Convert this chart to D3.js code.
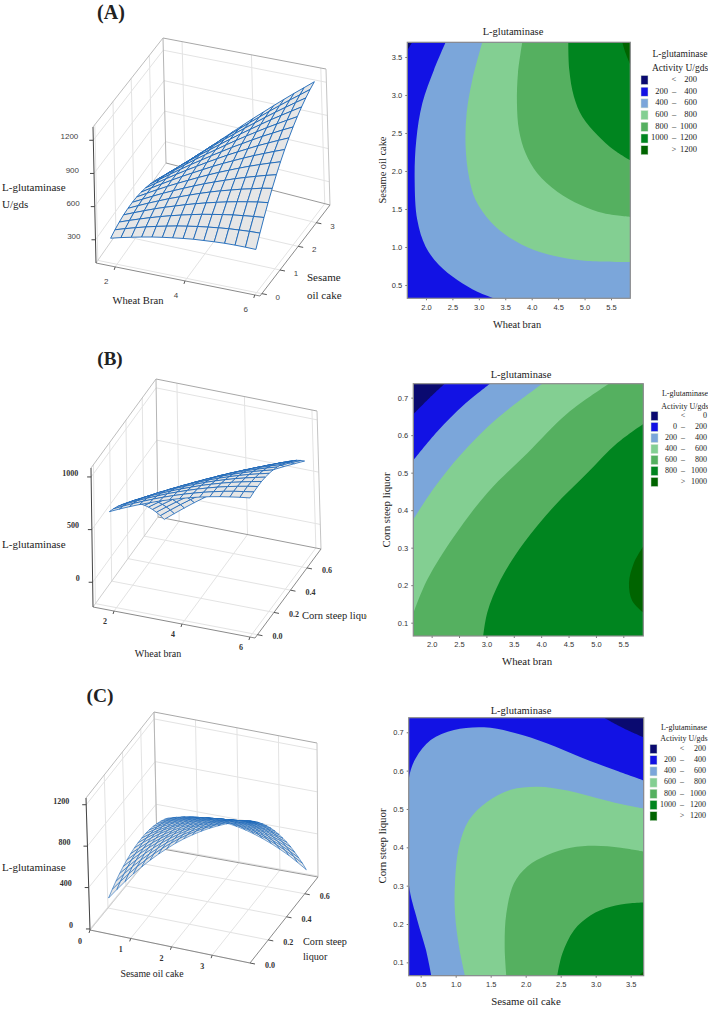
<!DOCTYPE html>
<html lang="en">
<head>
<meta charset="UTF-8">
<title>L-glutaminase response surfaces</title>
<script src="https://d3js.org/d3.v7.min.js"></script>
<style>
  body { margin: 0; background: #fff; }
  svg { display: block; }
  text { fill: #222; }
  .serif { font-family: "Liberation Serif", serif; }
  .sans { font-family: "Liberation Sans", sans-serif; }
</style>
</head>
<body>
<script>
// response, rows go front to back (second factor), columns left to right (first factor)
const surfaceA = [
  [230,255,277,298,317,333,347,360,371,378,385,390,392,392,390],
  [251,281,309,335,359,380,400,417,433,446,458,468,475,481,484],
  [266,301,334,365,394,421,446,469,490,508,525,540,552,563,572],
  [276,316,354,391,425,456,487,515,541,565,587,607,625,641,654],
  [280,325,369,410,450,486,522,556,588,617,643,669,691,714,731],
  [279,329,378,425,469,511,552,591,627,661,694,724,752,779,803],
  [272,328,382,434,483,530,576,620,662,701,739,775,808,840,869],
  [260,321,380,437,492,544,595,645,692,736,779,820,858,895,930],
  [242,308,372,435,495,552,609,663,716,765,813,860,903,945,985],
  [219,290,360,427,493,555,617,676,734,788,842,894,942,990,1034],
  [190,267,341,414,485,553,619,684,747,807,865,922,976,1028,1078],
  [156,238,318,396,472,544,616,686,754,819,883,945,1004,1061,1117],
  [116,203,288,371,452,531,608,683,756,826,896,963,1027,1090,1150],
  [71,163,254,342,428,512,594,674,752,828,902,974,1044,1111,1178],
  [20,118,213,307,398,487,574,660,744,824,904,981,1056,1128,1200]
];
const surfaceB = [
  [580,621,660,696,729,761,789,816,840,861,880,896,909,921,930],
  [556,600,641,679,715,749,780,809,835,859,880,899,915,928,940],
  [528,574,617,658,696,733,766,797,826,852,876,897,915,931,945],
  [494,543,588,632,672,711,747,780,812,840,866,890,910,929,946],
  [456,507,554,601,644,685,723,759,793,824,852,878,901,922,941],
  [412,466,516,565,610,653,694,732,769,802,833,861,887,910,931],
  [364,420,473,524,572,617,660,701,740,776,809,840,868,893,917],
  [311,369,425,478,528,576,622,665,706,745,780,813,843,872,898],
  [253,314,371,427,480,531,578,624,668,708,746,782,814,845,874],
  [190,253,313,371,427,480,530,578,624,667,707,745,780,814,845],
  [123,188,250,311,368,424,477,527,576,621,664,704,742,777,811],
  [50,118,183,246,306,364,419,472,523,571,616,659,699,737,772],
  [-27,43,110,176,238,298,355,411,465,515,562,607,650,690,729],
  [-110,-37,33,100,165,228,288,346,401,454,504,552,597,640,680],
  [-197,-122,-49,21,88,153,215,275,334,389,441,491,538,583,627]
];
const surfaceC = [
  [248,345,438,526,608,685,757,823,886,942,993,1039,1080,1116,1148,1174,1194],
  [286,379,467,550,627,700,767,829,886,938,984,1026,1062,1094,1120,1142,1157],
  [319,407,491,568,641,709,772,829,881,928,970,1007,1039,1065,1087,1104,1115],
  [348,431,510,584,652,715,773,825,874,916,953,985,1012,1035,1052,1064,1070],
  [372,451,525,594,657,716,769,817,860,898,930,958,980,998,1010,1018,1019],
  [391,465,535,598,657,711,760,803,841,874,902,925,943,955,963,966,963],
  [406,475,540,599,653,702,747,785,819,847,870,888,901,909,912,911,903],
  [417,482,542,597,646,691,730,764,793,817,835,849,857,861,859,853,840],
  [423,483,539,588,633,673,708,737,761,780,794,803,807,805,799,788,771],
  [424,479,530,575,615,651,681,705,725,739,748,752,751,745,734,719,697],
  [422,472,519,559,595,625,650,670,685,695,699,698,693,682,667,646,619],
  [414,460,502,537,568,594,615,630,640,645,645,640,630,614,594,569,538],
  [402,443,480,511,537,559,575,585,591,591,586,576,561,541,516,487,451],
  [385,421,454,480,502,518,529,535,536,532,522,507,488,463,434,399,358],
  [364,396,423,445,462,474,480,481,478,468,454,435,410,381,347,308,262],
  [339,366,389,406,418,426,428,424,416,402,383,359,331,296,258,214,164],
  [309,331,350,362,370,372,369,361,348,330,306,277,244,205,163,112,58]
];

// contour boundaries [x, y] in data units, one list per level, lowest first
const contourA = [
  [[1.647,3.59],[1.74,3.693]],
  [[2.372,3.693],[2.151,3.329],[1.931,2.89],[1.817,2.408],[1.786,1.882],[1.836,1.355],[1.994,1.004],[2.246,.763],[2.593,.566],[2.971,.412],[3.286,.325]],
  [[3.066,3.693],[2.876,3.197],[2.769,2.759],[2.75,2.32],[2.813,1.925],[2.939,1.618],[3.223,1.333],[3.602,1.114],[4.043,.961],[4.547,.864],[5.052,.816],[5.865,.803]],
  [[3.822,3.693],[3.74,3.285],[3.721,2.89],[3.759,2.539],[3.885,2.232],[4.106,1.969],[4.484,1.728],[4.926,1.553],[5.367,1.443],[5.865,1.395]],
  [[4.692,3.693],[4.711,3.329],[4.799,2.978],[4.957,2.715],[5.241,2.474],[5.557,2.276],[5.865,2.14]],
  [[5.714,3.693],[5.777,3.548],[5.865,3.395]]
];
const contourB = [
  [[1.665,.656],[1.951,.698],[2.237,.737]],
  [[1.665,.533],[2.103,.61],[2.59,.681],[3.065,.737]],
  [[1.665,.375],[2.043,.459],[2.53,.548],[3.199,.645],[4.021,.737]],
  [[1.665,.125],[1.921,.215],[2.408,.33],[3.016,.446],[3.747,.552],[4.477,.658],[5.238,.737]],
  [[2.943,.0645],[3.016,.127],[3.26,.215],[3.686,.313],[4.234,.41],[4.842,.499],[5.39,.579],[5.865,.63]],
  [[5.865,.304],[5.694,.26],[5.603,.206],[5.664,.158],[5.865,.127]]
];
const contourC = [
  [[3.119,.738],[3.405,.71],[3.686,.687]],
  [[.652,.0652],[.576,.132],[.452,.21],[.329,.306],[.329,.576],[.429,.632],[.643,.68],[.976,.706],[1.405,.713],[1.833,.699],[2.31,.671],[2.786,.635],[3.262,.602],[3.686,.574]],
  [[1.133,.0652],[1.048,.141],[.99,.228],[.99,.306],[1.048,.402],[1.19,.471],[1.452,.519],[1.786,.55],[2.167,.558],[2.595,.548],[3.024,.528],[3.357,.513],[3.686,.501]],
  [[1.724,.0652],[1.7,.141],[1.724,.228],[1.833,.306],[2.024,.35],[2.31,.38],[2.643,.399],[2.976,.404],[3.357,.399],[3.686,.389]],
  [[2.452,.0652],[2.524,.123],[2.69,.184],[2.929,.223],[3.214,.245],[3.5,.254],[3.686,.256]],
  [[3.619,.0652],[3.686,.077]]
];

const legendRowsA = [["","<","200"],["200","–","400"],["400","–","600"],["600","–","800"],["800","–","1000"],["1000","–","1200"],["",">","1200"]];
const legendRowsB = [["","<","0"],["0","–","200"],["200","–","400"],["400","–","600"],["600","–","800"],["800","–","1000"],["",">","1000"]];
const legendRowsC = legendRowsA;

const bandColors = ["#0a0a70","#1212e4","#7ba6da","#83cf92","#55b060","#00851f","#006400"];

const svg = d3.select("body").append("svg").attr("width", 708).attr("height", 1010);

function addText(x, y, str, cls, size, anchor, extra) {
  const t = svg.append("text").attr("class", cls).attr("x", x).attr("y", y)
    .attr("font-size", size).attr("text-anchor", anchor || "start")
    .attr("dominant-baseline", "middle").text(str);
  if (extra) extra(t);
  return t;
}

// ---- 3D panels ----
function drawSurface(p) {
  const tx = d3.scaleLinear().domain(p.xDomain).range([0, 1]);
  const ty = d3.scaleLinear().domain(p.yDomain).range([0, 1]);
  const tz = d3.scaleLinear().domain(p.zDomain).range([0, 1]);
  const c = p.corners;
  const project = (x, y, z) => {
    const a = tx(x), b = ty(y), d = tz(z);
    return [0, 1].map(k =>
      (1-a)*(1-b)*(1-d)*c["000"][k] + a*(1-b)*(1-d)*c["100"][k] + (1-a)*b*(1-d)*c["010"][k] + a*b*(1-d)*c["110"][k] +
      (1-a)*(1-b)*d*c["001"][k] + a*(1-b)*d*c["101"][k] + (1-a)*b*d*c["011"][k] + a*b*d*c["111"][k]);
  };
  const [x0, x1] = p.xDomain, [y0, y1] = p.yDomain, [z0, z1] = p.zDomain;
  const g = svg.append("g");
  const seg = (a, b, col, w) => g.append("line")
    .attr("x1", a[0]).attr("y1", a[1]).attr("x2", b[0]).attr("y2", b[1])
    .attr("stroke", col).attr("stroke-width", w);

  // light grid on walls and floor
  const grid = "#e3e3e3";
  p.xTicks.forEach(v => {
    seg(project(v, y0, z0), project(v, y1, z0), grid, 1);
    seg(project(v, y1, z0), project(v, y1, z1), grid, 1);
  });
  p.yTicks.forEach(v => {
    seg(project(x0, v, z0), project(x1, v, z0), grid, 1);
    seg(project(x0, v, z0), project(x0, v, z1), grid, 1);
  });
  p.zTicks.forEach(v => {
    seg(project(x0, y0, v), project(x0, y1, v), grid, 1);
    seg(project(x0, y1, v), project(x1, y1, v), grid, 1);
  });

  // box edges
  seg(project(x0, y0, z0), project(x0, y1, z0), "#cfcfcf", 1);
  seg(project(x0, y0, z1), project(x0, y1, z1), "#bdbdbd", 1);
  seg(project(x0, y1, z1), project(x1, y1, z1), "#a8a8a8", 1);
  seg(project(x0, y1, z0), project(x0, y1, z1), "#b5b5b5", 1);
  seg(project(x1, y1, z0), project(x1, y1, z1), "#c4c4c4", 1);
  seg(project(x0, y1, z0), project(x1, y1, z0), "#9a9a9a", 1);
  seg(project(x0, y0, z0), project(x1, y0, z0), "#8a8a8a", 1);
  seg(project(x1, y0, z0), project(x1, y1, z0), "#8a8a8a", 1);
  seg(project(x0, y0, z0), project(x0, y0, z1), "#444", 1);

  // mesh, painted back to front
  const rows = p.surface.length, cols = p.surface[0].length;
  const xAt = d3.scaleLinear().domain([0, cols - 1]).range(p.xRange);
  const yAt = d3.scaleLinear().domain([0, rows - 1]).range(p.yRange);
  const node = (i, j) => project(xAt(j), yAt(i), p.surface[i][j]);
  const cells = [];
  for (let i = rows - 2; i >= 0; i--)
    for (let j = 0; j < cols - 1; j++)
      cells.push([node(i, j), node(i, j + 1), node(i + 1, j + 1), node(i + 1, j)]);
  const cellPath = d3.line().curve(d3.curveLinearClosed);
  g.selectAll("path.cell").data(cells).join("path")
    .attr("class", "cell")
    .attr("d", cellPath)
    .attr("fill", "#e6e6e6")
    .attr("stroke", "#1a66b8")
    .attr("stroke-width", p.meshWidth)
    .attr("stroke-linejoin", "round");

  // ticks and their labels
  p.xTicks.forEach(v => {
    const a = project(v, y0, z0);
    seg(a, [a[0] - 1, a[1] + 3], "#555", 1);
    addText(a[0] + p.xLabelOffset[0], a[1] + p.xLabelOffset[1], String(v), p.tickClass, p.tickSize, "middle", p.tickStyle);
  });
  p.yTicks.forEach(v => {
    const a = project(x1, v, z0);
    seg(a, [a[0] + 5, a[1] + 1], "#555", 1);
    addText(a[0] + p.yLabelOffset[0], a[1] + p.yLabelOffset[1], p.yFormat(v), p.tickClass, p.tickSize, "middle", p.tickStyle);
  });
  p.zTicks.forEach(v => {
    const a = project(x0, y0, v);
    seg(a, [a[0] - 4, a[1]], "#444", 1);
    addText(a[0] + p.zLabelOffset[0], a[1] + p.zLabelOffset[1], String(v), p.tickClass, p.tickSize, "end", p.tickStyle);
  });
}

const boldTick = t => t.attr("font-weight", "bold").style("fill", "#333");
const greyTick = t => t.style("fill", "#444");

drawSurface({
  surface: surfaceA,
  xDomain: [1.45, 6.15], yDomain: [-0.1, 3.75], zDomain: [90, 1320],
  xRange: [1.66, 5.84], yRange: [0.32, 3.68],
  corners: { "000": [96, 263], "100": [260, 296], "010": [166, 163], "110": [330, 205],
             "001": [93, 127], "101": [256, 154], "011": [163, 38], "111": [326, 69] },
  xTicks: [2, 4, 6], yTicks: [0, 1, 2, 3], zTicks: [300, 600, 900, 1200],
  yFormat: d3.format("d"),
  xLabelOffset: [-9, 15], yLabelOffset: [16, 4], zLabelOffset: [-15, -3],
  tickClass: "sans", tickSize: 8, tickStyle: greyTick, meshWidth: 0.9
});
drawSurface({
  surface: surfaceB,
  xDomain: [1.38, 6.15], yDomain: [-0.03, 0.77], zDomain: [-235, 1085],
  xRange: [1.66, 5.84], yRange: [0.07, 0.73],
  corners: { "000": [93, 607], "100": [255, 638], "010": [158, 517], "110": [321, 549],
             "001": [91, 468], "101": [252, 493], "011": [156, 379], "111": [317, 411] },
  xTicks: [2, 4, 6], yTicks: [0, 0.2, 0.4, 0.6], zTicks: [0, 500, 1000],
  yFormat: d3.format(".1f"),
  xLabelOffset: [-9, 11], yLabelOffset: [20, 3], zLabelOffset: [-13, -3],
  tickClass: "serif", tickSize: 8, tickStyle: boldTick, meshWidth: 0.8
});
drawSurface({
  surface: surfaceC,
  xDomain: [0, 3.93], yDomain: [0, 0.745], zDomain: [-10, 1265],
  xRange: [0.32, 3.68], yRange: [0.07, 0.73],
  corners: { "000": [90, 930], "100": [250, 963], "010": [157, 848], "110": [318, 877],
             "001": [86, 798], "101": [247, 823], "011": [154, 712], "111": [317, 743] },
  xTicks: [0, 1, 2, 3], yTicks: [0, 0.2, 0.4, 0.6], zTicks: [0, 400, 800, 1200],
  yFormat: d3.format(".1f"),
  xLabelOffset: [-10, 12], yLabelOffset: [20, 3], zLabelOffset: [-17, -3],
  tickClass: "serif", tickSize: 8, tickStyle: boldTick, meshWidth: 0.6
});

// panel letters and 3D axis names
addText(111, 14, "(A)", "serif", 20, "middle").attr("font-weight", "bold");
addText(110, 361, "(B)", "serif", 19, "middle").attr("font-weight", "bold");
addText(100, 698, "(C)", "serif", 19.5, "middle").attr("font-weight", "bold");

addText(2, 188, "L-glutaminase", "serif", 11);
addText(2, 205, "U/gds", "serif", 11);
addText(138, 302, "Wheat Bran", "serif", 10.6, "middle");
addText(307, 278, "Sesame", "serif", 11);
addText(307, 296, "oil cake", "serif", 11);

addText(2, 545, "L-glutaminase", "serif", 11);
addText(158, 655, "Wheat bran", "serif", 10, "middle");
svg.append("clipPath").attr("id", "cutB").append("rect")
  .attr("x", 295).attr("y", 600).attr("width", 72).attr("height", 30);
addText(302, 617, "Corn steep liquor", "serif", 10.5).attr("clip-path", "url(#cutB)");

addText(2, 868, "L-glutaminase", "serif", 11);
addText(152, 975, "Sesame oil cake", "serif", 9.8, "middle");
addText(303, 943, "Corn steep", "serif", 10.2);
addText(303, 958, "liquor", "serif", 10.2);

// ---- contour panels ----
function drawContour(p) {
  const sx = d3.scaleLinear().domain(p.xDomain).range([p.left, p.right]);
  const sy = d3.scaleLinear().domain(p.yDomain).range([p.bottom, p.top]);
  const corner = {
    TL: [p.xDomain[0], p.yDomain[1]], TR: [p.xDomain[1], p.yDomain[1]],
    BL: [p.xDomain[0], p.yDomain[0]], BR: [p.xDomain[1], p.yDomain[0]]
  };
  const clipId = "clip" + p.id;
  svg.append("clipPath").attr("id", clipId).append("rect")
    .attr("x", p.left).attr("y", p.top).attr("width", p.right - p.left).attr("height", p.bottom - p.top);
  const g = svg.append("g").attr("clip-path", `url(#${clipId})`);
  g.append("rect").attr("x", p.left).attr("y", p.top).attr("width", p.right - p.left)
    .attr("height", p.bottom - p.top).attr("fill", bandColors[0]);
  const line = d3.line().x(d => sx(d[0])).y(d => sy(d[1])).curve(d3.curveCatmullRom.alpha(0.5));
  p.levels.forEach((pts, i) => {
    const tail = p.closing[i].map(k => `L${sx(corner[k][0])},${sy(corner[k][1])}`).join("");
    g.append("path").attr("d", line(pts) + tail + "Z").attr("fill", bandColors[i + 1]);
  });

  const xAxis = d3.axisBottom(sx).tickValues(p.xTicks).tickFormat(p.xFormat).tickSize(2).tickPadding(4);
  const yAxis = d3.axisLeft(sy).tickValues(p.yTicks).tickFormat(p.yFormat).tickSize(2).tickPadding(3);
  [svg.append("g").attr("transform", `translate(0,${p.bottom})`).call(xAxis),
   svg.append("g").attr("transform", `translate(${p.left},0)`).call(yAxis)].forEach(a => {
    a.select(".domain").remove();
    a.selectAll("line").attr("stroke", "#777");
    a.selectAll("text").attr("class", "sans").attr("font-size", 7.5).style("fill", "#333");
  });
  svg.append("rect").attr("x", p.left).attr("y", p.top).attr("width", p.right - p.left)
    .attr("height", p.bottom - p.top).attr("fill", "none").attr("stroke", "#8c8c8c").attr("stroke-width", 1.2);

  addText(p.titleX, p.titleY, "L-glutaminase", "serif", 10.5, "middle");
  addText(p.xLabelX, p.xLabelY, p.xLabel, "serif", p.labelSize, "middle");
  addText(0, 0, p.yLabel, "serif", p.labelSize, "middle")
    .attr("transform", `translate(${p.yLabelX},${p.yLabelY}) rotate(-90)`);

  // legend
  addText(p.legendX, p.legendY[0], "L-glutaminase", "serif", p.legendTitleSize, "middle");
  addText(p.legendX, p.legendY[1], "Activity U/gds", "serif", p.legendTitleSize, "middle");
  p.legendRows.forEach((r, i) => {
    const y = p.rowY + i * p.rowStep;
    svg.append("rect").attr("x", p.swatchX).attr("y", y - 4.5).attr("width", 7).attr("height", 9)
      .attr("fill", bandColors[i]).attr("stroke", "#cfe3cf").attr("stroke-width", 0.5);
    addText(p.lowX, y, r[0], "serif", p.legendSize, "end");
    addText(p.symX, y, r[1], "serif", p.legendSize, "middle");
    addText(p.highX, y, r[2], "serif", p.legendSize, "end");
  });
}

const oneDec = d3.format(".1f");
drawContour({
  id: "A", levels: contourA,
  closing: [["TR","BR","BL"],["BR","TR"],["TR"],["TR"],["TR"],["TR"]],
  xDomain: [1.647, 5.865], yDomain: [0.325, 3.693],
  left: 407.3, right: 630.3, top: 42.3, bottom: 298.3,
  xTicks: [2, 2.5, 3, 3.5, 4, 4.5, 5, 5.5], yTicks: [0.5, 1, 1.5, 2, 2.5, 3, 3.5],
  xFormat: oneDec, yFormat: oneDec,
  titleX: 513, titleY: 33, xLabel: "Wheat bran", xLabelX: 517, xLabelY: 326,
  yLabel: "Sesame oil cake", yLabelX: 384, yLabelY: 170, labelSize: 10.4,
  legendRows: legendRowsA, legendX: 680, legendY: [55, 69], legendTitleSize: 9.5, legendSize: 8.5,
  swatchX: 641, rowY: 80, rowStep: 11.7, lowX: 668, symX: 674, highX: 697
});
drawContour({
  id: "B", levels: contourB,
  closing: [["TR","BR","BL"],["TR","BR","BL"],["TR","BR","BL"],["TR","BR","BL"],["BR"],[]],
  xDomain: [1.665, 5.865], yDomain: [0.0645, 0.7372],
  left: 413.3, right: 643.3, top: 383.7, bottom: 636,
  xTicks: [2, 2.5, 3, 3.5, 4, 4.5, 5, 5.5], yTicks: [0.1, 0.2, 0.3, 0.4, 0.5, 0.6, 0.7],
  xFormat: oneDec, yFormat: oneDec,
  titleX: 521, titleY: 376, xLabel: "Wheat bran", xLabelX: 527, xLabelY: 663,
  yLabel: "Corn steep liquor", yLabelX: 388, yLabelY: 510, labelSize: 10.8,
  legendRows: legendRowsB, legendX: 685, legendY: [394, 407], legendTitleSize: 8, legendSize: 8,
  swatchX: 651, rowY: 416, rowStep: 11, lowX: 677, symX: 683, highX: 707
});
drawContour({
  id: "C", levels: contourC,
  closing: [["BR","BL","TL"],["BR"],["BR"],["BR"],["BR"],["BR"]],
  xDomain: [0.329, 3.686], yDomain: [0.0652, 0.738],
  left: 408.7, right: 643.7, top: 717.7, bottom: 975.7,
  xTicks: [0.5, 1, 1.5, 2, 2.5, 3, 3.5], yTicks: [0.1, 0.2, 0.3, 0.4, 0.5, 0.6, 0.7],
  xFormat: oneDec, yFormat: oneDec,
  titleX: 521, titleY: 712, xLabel: "Sesame oil cake", xLabelX: 526, xLabelY: 1003,
  yLabel: "Corn steep liquor", yLabelX: 384, yLabelY: 846, labelSize: 10.8,
  legendRows: legendRowsC, legendX: 684, legendY: [728, 739], legendTitleSize: 8, legendSize: 8,
  swatchX: 650, rowY: 749, rowStep: 11.2, lowX: 676, symX: 682, highX: 706
});
</script>
</body>
</html>
